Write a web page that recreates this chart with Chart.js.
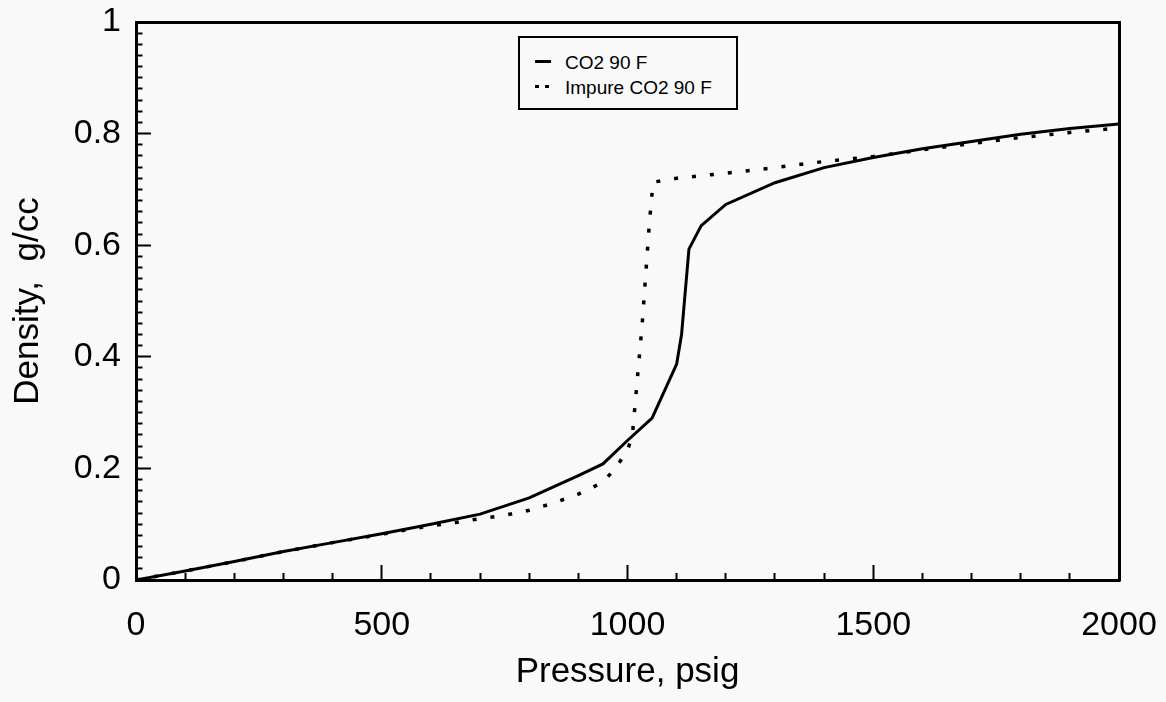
<!DOCTYPE html>
<html>
<head>
<meta charset="utf-8">
<script src="https://cdn.jsdelivr.net/npm/chart.js@4/dist/chart.umd.min.js"></script>
<style>
  html, body { margin: 0; padding: 0; background: #f9f9f9; }
  #wrap { position: relative; width: 1166px; height: 702px; }
  #legend {
    position: absolute; left: 518px; top: 36px; width: 220px; height: 74px;
    box-sizing: border-box; border: 2px solid #000; background: #f9f9f9;
    padding: 12px 0 0 15px;
    font-family: "Liberation Sans", Arial, sans-serif; font-size: 19px; color: #000;
  }
  .row { height: 25px; line-height: 25px; white-space: nowrap; }
  .swatch { display: inline-block; width: 16px; height: 3px; vertical-align: middle; margin-right: 14px; position: relative; top: -2px; }
  .swatch.solid { background: #000; }
  .swatch.dotted { background: repeating-linear-gradient(to right, #000 0 4px, transparent 4px 10px); }
</style>
</head>
<body>
<div id="wrap">
  <canvas id="c" width="1166" height="702"></canvas>
  <div id="legend"></div>
</div>
<script>
// Pressure (psig) and density (g/cc) for CO2 at 90 F
const pureP = [0, 100, 200, 300, 400, 500, 600, 700, 800, 900, 950, 1000, 1050, 1100, 1110, 1125, 1150, 1200, 1300, 1400, 1500, 1600, 1700, 1800, 1900, 2000];
const pureD = [0, 0.016, 0.033, 0.051, 0.067, 0.083, 0.1, 0.118, 0.147, 0.187, 0.208, 0.25, 0.29, 0.387, 0.44, 0.593, 0.635, 0.673, 0.712, 0.739, 0.757, 0.773, 0.786, 0.799, 0.809, 0.817];

// Pressure (psig) and density (g/cc) for impure CO2 at 90 F
const impureP = [0, 100, 200, 300, 400, 500, 550, 600, 650, 700, 750, 800, 850, 900, 950, 975, 1000, 1010, 1030, 1045, 1052, 1100, 1200, 1300, 1400, 1500, 1600, 1700, 1800, 1900, 2000];
const impureD = [0, 0.016, 0.033, 0.051, 0.067, 0.082, 0.09, 0.097, 0.103, 0.11, 0.116, 0.125, 0.138, 0.154, 0.175, 0.2, 0.232, 0.26, 0.46, 0.645, 0.713, 0.72, 0.729, 0.739, 0.75, 0.759, 0.771, 0.782, 0.793, 0.802, 0.81];

const seriesLabels = ['CO2 90 F', 'Impure CO2 90 F'];
const xTitle = 'Pressure, psig';
const yTitle = 'Density,  g/cc';

const FONT = '"Liberation Sans", Arial, sans-serif';
const INK = '#000';

const toPoints = (xs, ys) => xs.map((x, i) => ({ x: x, y: ys[i] }));

const isMajorX = v => Math.round(v) % 500 === 0;
const isMajorY = v => Math.round(v * 50) % 10 === 0;

// Fixed axis box sizes; label overhang padding is dropped so the frame stays put
const fixHeight = h => s => { s.height = h; s.paddingLeft = 0; s.paddingRight = 0; };
const fixWidth = w => s => { s.width = w; s.paddingTop = 0; s.paddingBottom = 0; };

const chart = new Chart(document.getElementById('c'), {
  type: 'line',
  data: {
    datasets: [
      {
        label: seriesLabels[0],
        data: toPoints(pureP, pureD),
        borderColor: INK,
        borderWidth: 3,
        pointRadius: 0,
        tension: 0,
        legendStyle: 'solid'
      },
      {
        label: seriesLabels[1],
        data: toPoints(impureP, impureD),
        borderColor: INK,
        borderWidth: 3.5,
        borderDash: [4, 14],
        pointRadius: 0,
        tension: 0,
        legendStyle: 'dotted'
      }
    ]
  },
  options: {
    responsive: false,
    animation: false,
    events: [],
    layout: { padding: 0 },
    plugins: { legend: { display: false }, tooltip: { enabled: false } },
    scales: {
      x: {
        type: 'linear', position: 'bottom', min: 0, max: 2000,
        afterFit: fixHeight(122),
        ticks: {
          stepSize: 100, autoSkip: false, maxRotation: 0, padding: 40,
          color: INK, font: { family: FONT, size: 34 },
          callback: v => isMajorX(v) ? String(Math.round(v)) : ''
        },
        grid: {
          drawOnChartArea: false, drawTicks: true, tickLength: -15,
          tickColor: INK, tickWidth: 2,
          tickBorderDash: c => isMajorX(c.tick.value) ? [] : [9, 60]
        },
        border: { display: true, color: INK, width: 3 },
        title: {
          display: true, text: xTitle, color: INK,
          font: { family: FONT, size: 35 }, padding: { top: 0, bottom: 9 }
        }
      },
      xTop: {
        type: 'linear', position: 'top', min: 0, max: 2000,
        afterFit: fixHeight(22),
        ticks: { display: false },
        grid: { display: false },
        border: { display: true, color: INK, width: 3 }
      },
      y: {
        type: 'linear', position: 'left', min: 0, max: 1,
        afterFit: fixWidth(136),
        ticks: {
          stepSize: 0.02, autoSkip: false, padding: 30,
          color: INK, font: { family: FONT, size: 34 },
          callback: v => isMajorY(v) ? String(Math.round(v * 10) / 10) : ''
        },
        grid: {
          drawOnChartArea: false, drawTicks: true, tickLength: -15,
          tickColor: INK, tickWidth: 2,
          tickBorderDash: c => isMajorY(c.tick.value) ? [] : [0, 8.5, 60]
        },
        border: { display: true, color: INK, width: 3 },
        title: {
          display: true, text: yTitle, color: INK,
          font: { family: FONT, size: 35 }, padding: { top: 7, bottom: 0 }
        }
      },
      yRight: {
        type: 'linear', position: 'right', min: 0, max: 1,
        afterFit: fixWidth(47),
        ticks: { display: false },
        grid: { display: false },
        border: { display: true, color: INK, width: 3 }
      }
    }
  }
});

// Boxed legend built from the chart's datasets
const legendEl = document.getElementById('legend');
chart.data.datasets.forEach(ds => {
  const row = document.createElement('div');
  row.className = 'row';
  const sw = document.createElement('span');
  sw.className = 'swatch ' + ds.legendStyle;
  row.appendChild(sw);
  row.appendChild(document.createTextNode(ds.label));
  legendEl.appendChild(row);
});
</script>
</body>
</html>
